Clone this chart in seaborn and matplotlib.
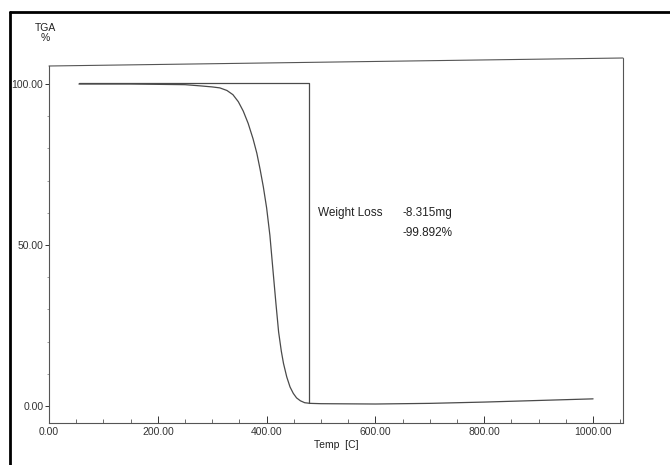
import matplotlib
matplotlib.use("Agg")
import matplotlib.pyplot as plt
from matplotlib.ticker import MultipleLocator, FormatStrFormatter
from matplotlib.lines import Line2D
import pandas as pd
import seaborn as sns

# TGA curve
temp = [55, 150, 250, 280, 300, 314, 327, 338, 348, 357, 366, 375, 382, 388,
        394, 400, 406, 412, 417, 422, 427, 431, 437, 443, 449, 455, 462, 470,
        480, 500, 600, 700, 800, 900, 1000]
weight = [100.0, 100.0, 99.8, 99.4, 99.1, 98.8, 98.0, 96.7, 94.5, 91.6, 87.8,
          83.0, 78.5, 73.5, 68.0, 61.5, 53.0, 41.5, 32.0, 23.0, 17.0, 13.2,
          9.0, 5.9, 3.9, 2.5, 1.6, 1.0, 0.8, 0.7, 0.6, 0.8, 1.2, 1.7, 2.2]

# weight loss step marker
step_temp = [55, 478, 478]
step_weight = [100.3, 100.3, 0.9]

loss_mg = "-8.315mg"
loss_pct = "-99.892%"

sns.set_style("white")
plt.rcParams["font.family"] = ["Liberation Sans", "DejaVu Sans"]

df = pd.DataFrame({"Temp": temp, "TGA": weight})

fig = plt.figure(figsize=(6.7, 4.65), dpi=100)
ax = fig.add_axes([49 / 670, 42 / 465, (623 - 49) / 670, (423 - 66) / 465])

line_col = "#4a4a4a"
sns.lineplot(data=df, x="Temp", y="TGA", ax=ax, color=line_col, linewidth=0.9,
             sort=False)
ax.plot(step_temp, step_weight, color=line_col, linewidth=0.9)

ax.set_xlim(0, 1055)
ax.set_ylim(-5.3, 105.6)

ax.xaxis.set_major_locator(MultipleLocator(200))
ax.xaxis.set_minor_locator(MultipleLocator(50))
ax.yaxis.set_major_locator(MultipleLocator(50))
ax.yaxis.set_minor_locator(MultipleLocator(10))
ax.xaxis.set_major_formatter(FormatStrFormatter("%.2f"))
ax.yaxis.set_major_formatter(FormatStrFormatter("%.2f"))

ax.tick_params(axis="x", which="major", direction="in", length=5, width=0.7,
               labelsize=7.5, pad=3, colors="#333333")
ax.tick_params(axis="x", which="minor", direction="in", length=3, width=0.6,
               colors="#555555")
ax.tick_params(axis="y", which="major", direction="out", length=3, width=0.7,
               labelsize=7.5, pad=1, colors="#333333")
ax.tick_params(axis="y", which="minor", direction="out", length=1.5, width=0.5,
               colors="#777777")
ax.tick_params(axis="x", which="both", bottom=True)
ax.tick_params(axis="y", which="both", left=True)

for side in ["left", "bottom"]:
    ax.spines[side].set_color("#555555")
    ax.spines[side].set_linewidth(0.8)
ax.spines["top"].set_visible(False)
ax.spines["right"].set_visible(False)

# slightly skewed top/right border as in the scan
tilt = (423 - 58) / (423 - 66)
ax.add_line(Line2D([0, 1], [1, tilt], transform=ax.transAxes, color="#555555",
                   linewidth=0.8, clip_on=False))
ax.add_line(Line2D([1, 1], [0, tilt], transform=ax.transAxes, color="#555555",
                   linewidth=0.8, clip_on=False))

ax.set_xlabel("Temp  [C]", fontsize=7.5, labelpad=2, color="#222222")
ax.set_ylabel("")
fig.text(45 / 670, 1 - 33 / 465, "TGA\n%", fontsize=7.5, ha="center",
         va="center", color="#222222", linespacing=1.0)

ax.text(494, 60, "Weight Loss", fontsize=8.5, color="#222222", va="center")
ax.text(649, 60, loss_mg, fontsize=8.5, color="#222222", va="center")
ax.text(649, 53.8, loss_pct, fontsize=8.5, color="#222222", va="center")

# outer page frame
fig.add_artist(Line2D([10 / 670, 10 / 670], [0, 1 - 12 / 465],
                      transform=fig.transFigure, color="black", linewidth=2))
fig.add_artist(Line2D([10 / 670, 1], [1 - 12 / 465, 1 - 12 / 465],
                      transform=fig.transFigure, color="black", linewidth=2))

fig.savefig("out.png", dpi=100)
